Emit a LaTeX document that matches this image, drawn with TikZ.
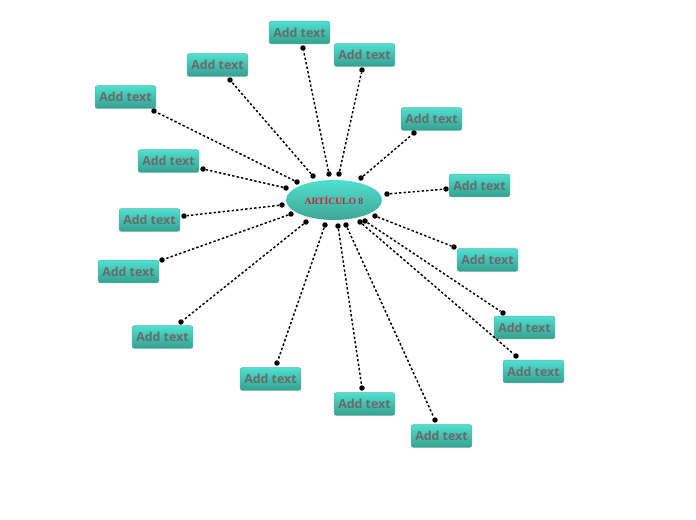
\documentclass[tikz,border=0pt]{standalone}
\usepackage{fontspec}
\usetikzlibrary{shapes.geometric}
\setsansfont{Open Sans}
\newfontfamily\titlefont{Liberation Serif}
\definecolor{tealtop}{HTML}{4FE0CF}
\definecolor{tealbot}{HTML}{36A090}
\definecolor{addgray}{HTML}{6A6A6A}
\definecolor{titlered}{HTML}{D0203A}
\begin{document}
\begin{tikzpicture}[x=0.75pt, y=-0.75pt,
    topic/.style={rounded corners=1.5pt, top color=tealtop, bottom color=tealbot,
                  draw=tealbot!80, line width=0.3pt,
                  minimum width=45.5pt, minimum height=17pt, inner sep=0pt,
                  text=addgray, font=\sffamily\bfseries\fontsize{9.3}{10}\selectfont},
    hub/.style={ellipse, top color=tealtop, bottom color=tealbot!95,
                minimum width=72pt, minimum height=30pt, inner sep=0pt,
                text=titlered, font=\titlefont\bfseries\fontsize{7.2}{8}\selectfont},
    dot/.style={circle, fill=black, minimum size=4.1pt, inner sep=0pt},
    link/.style={line width=1.1pt, dash pattern=on 1.8pt off 1.6pt}]

  \useasboundingbox (0,0) rectangle (696,520);

  \node[hub] (hub) at (334,200) {ARTÍCULO 8};

  % branches: box centre / dot at box / dot at hub
  \foreach \i/\bx/\by/\px/\py/\qx/\qy in {
      1/299.5/32.5/303/48/329/174,
      2/364.5/55/362/70/339/174,
      3/217.5/65/230/80/313/176,
      4/125.5/97/154/111/297/182,
      5/431.5/119/414/133/361/178,
      6/168.5/161/203/169/286/188,
      7/479.5/185.5/446/189/387/194,
      8/149.5/220/184/216/282/205,
      9/128.5/271.5/162/260/291/214,
      10/487.5/260/454/247/375/216,
      11/524.5/327.5/503/313/365/221,
      12/162.5/337/181/322/306/222,
      13/533.5/371.5/516/356/360/222,
      14/270.5/379/277/363/325/225,
      15/364.5/404/362/388/338/226,
      16/441.5/436/435/420/346/225}
  {
    \node[topic] (t\i) at (\bx,\by) {Add text};
    \node[dot] (p\i) at (\px,\py) {};
    \node[dot] (q\i) at (\qx,\qy) {};
    \draw[link] (q\i) -- (p\i);
  }
\end{tikzpicture}
\end{document}
